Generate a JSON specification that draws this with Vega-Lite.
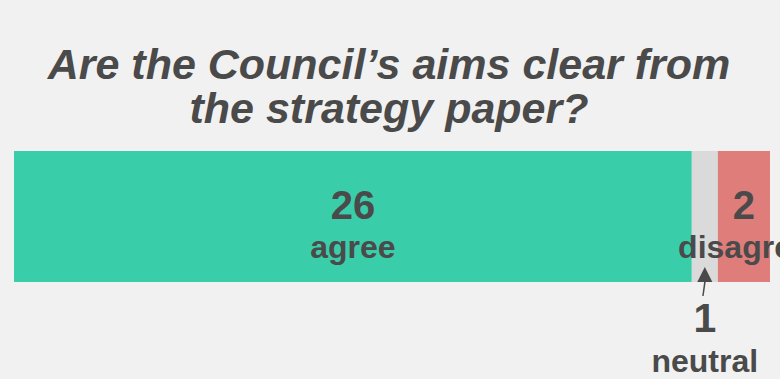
{
  "$schema": "https://vega.github.io/schema/vega-lite/v6.json",
  "width": 756,
  "height": 131,
  "autosize": {"type": "none"},
  "padding": {"left": 14, "top": 151, "right": 10, "bottom": 97},
  "background": "#f1f1f1",
  "title": {
    "text": ["Are the Council’s aims clear from", "the strategy paper?"],
    "font": "Liberation Sans",
    "fontSize": 43,
    "fontStyle": "italic",
    "fontWeight": "bold",
    "color": "#4a4a4a",
    "lineHeight": 44,
    "anchor": "middle",
    "dx": -3,
    "offset": 19
  },
  "config": {
    "view": {"stroke": null},
    "text": {"font": "Liberation Sans", "fontWeight": "bold", "color": "#4a4a4a"}
  },
  "data": {
    "values": [
      {"response": "agree", "count": 26, "rank": 1},
      {"response": "neutral", "count": 1, "rank": 2},
      {"response": "disagree", "count": 2, "rank": 3}
    ]
  },
  "transform": [
    {"stack": "count", "groupby": [], "sort": [{"field": "rank", "order": "ascending"}], "as": ["x0", "x1"]},
    {"calculate": "(datum.x0 + datum.x1) / 2", "as": "mid"}
  ],
  "encoding": {
    "x": {"type": "quantitative", "scale": {"domain": [0, 29], "nice": false, "zero": true}, "axis": null}
  },
  "layer": [
    {
      "mark": {"type": "bar", "cornerRadius": 0},
      "encoding": {
        "x": {"field": "x0", "type": "quantitative"},
        "x2": {"field": "x1"},
        "y": {"value": 0},
        "y2": {"value": "height"},
        "color": {
          "field": "response",
          "type": "nominal",
          "scale": {"domain": ["agree", "neutral", "disagree"], "range": ["#3acdaa", "#dadada", "#df7d7b"]},
          "legend": null
        }
      }
    },
    {
      "transform": [{"filter": "datum.response !== 'neutral'"}],
      "mark": {"type": "text", "fontSize": 40, "baseline": "alphabetic", "align": "center", "dy": 2},
      "encoding": {
        "x": {"field": "mid", "type": "quantitative"},
        "text": {"field": "count", "type": "quantitative"}
      }
    },
    {
      "transform": [{"filter": "datum.response !== 'neutral'"}],
      "mark": {"type": "text", "fontSize": 32, "baseline": "alphabetic", "align": "center", "dy": 41},
      "encoding": {
        "x": {"field": "mid", "type": "quantitative"},
        "text": {"field": "response", "type": "nominal"}
      }
    },
    {
      "transform": [{"filter": "datum.response === 'neutral'"}],
      "mark": {"type": "text", "fontSize": 41, "baseline": "alphabetic", "align": "center", "dy": 115},
      "encoding": {
        "x": {"field": "mid", "type": "quantitative"},
        "text": {"field": "count", "type": "quantitative"}
      }
    },
    {
      "transform": [{"filter": "datum.response === 'neutral'"}],
      "mark": {"type": "text", "fontSize": 32, "baseline": "alphabetic", "align": "center", "dy": 155},
      "encoding": {
        "x": {"field": "mid", "type": "quantitative"},
        "text": {"field": "response", "type": "nominal"}
      }
    },
    {
      "transform": [{"filter": "datum.response === 'neutral'"}],
      "mark": {
        "type": "point",
        "shape": "M0,-1L0.52,0.03L0.06,0.03L-0.08,1L-0.18,1L-0.05,0.03L-0.52,0.03Z",
        "size": 841,
        "filled": true,
        "opacity": 1,
        "color": "#4a4a4a",
        "yOffset": 65
      },
      "encoding": {
        "x": {"field": "mid", "type": "quantitative"}
      }
    }
  ]
}
